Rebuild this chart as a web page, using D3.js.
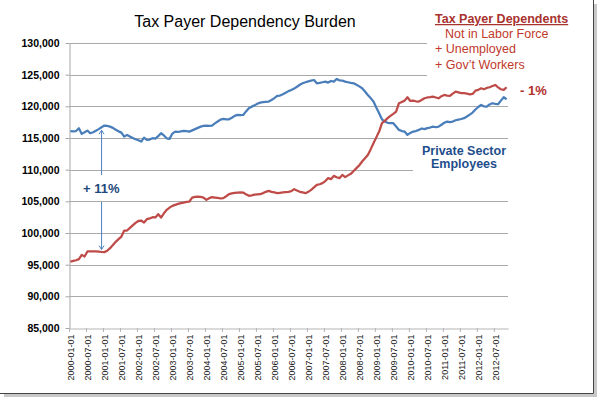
<!DOCTYPE html>
<html><head><meta charset="utf-8">
<script src="https://cdn.jsdelivr.net/npm/d3@7"></script>
<style>
body{margin:0;background:#fff}
svg{display:block;font-family:Arial,"Liberation Sans",sans-serif}
</style>
</head><body>
<svg id="c" width="597" height="397"></svg>
<script>
// ---------- data ----------
const firstMonth = [2000, 0];          // Jan 2000
const monthCount = 155;                // through Nov 2012
const privateSector = [
116100,116050,116100,116550,115650,115900,116170,115750,115900,116150,
116400,116700,116960,116900,116800,116600,116300,116050,115850,115220,
115490,115250,115000,114800,114650,114430,115060,114700,114750,114970,
114900,115300,115750,115400,114950,114860,115700,116010,115950,116050,
116120,116100,116010,116200,116400,116600,116800,116900,116960,116900,
116960,117300,117600,117900,118010,117950,117960,118200,118500,118640,
118600,118640,119200,119700,119950,120150,120400,120590,120650,120700,
120750,121000,121300,121640,121700,121900,122150,122400,122590,122800,
123100,123400,123640,123800,123950,124050,124160,123640,123700,123800,
123900,123750,124000,123900,124320,124100,124050,123900,123800,123700,
123640,123400,123150,122850,122350,121800,121300,120750,119800,118910,
117960,117600,117400,117350,117330,116800,116280,116100,116010,115490,
115800,116010,116100,116280,116500,116400,116550,116650,116800,116700,
116800,117100,117400,117590,117500,117590,117800,117900,118000,118130,
118400,118700,119010,119500,119900,120220,120000,119950,120300,120490,
120400,120330,120900,121430,121120
];
const dependents = [
95490,95600,95700,95870,96550,96290,97080,97100,97100,97080,
97050,97000,96980,97200,97610,98100,98600,99030,99440,100390,
100390,100800,101200,101600,101900,101970,101650,102180,102300,102500,
102450,102970,102440,103100,103660,104000,104290,104450,104600,104710,
104800,104900,104970,105600,105700,105760,105700,105600,105240,105500,
105660,105600,105550,105450,105500,105800,106130,106250,106350,106390,
106400,106390,106100,105870,105950,106050,106100,106130,106300,106500,
106650,106500,106400,106290,106350,106400,106450,106500,106600,106920,
106700,106500,106400,106290,106500,106810,107200,107600,107700,107870,
108200,108660,108500,109020,108800,108660,109180,108820,109100,109340,
109800,110240,110700,111290,111800,112330,113200,114180,115100,116010,
117340,117700,118130,118500,118800,119170,120490,120700,120900,121430,
120850,120900,120800,120750,121000,121270,121400,121450,121530,121400,
121270,121600,121800,121700,121640,122000,122320,122200,122100,122070,
122000,121900,121960,122480,122600,122850,122700,122900,123010,123200,
123380,123000,122700,122590,123010
];
const yTicks = [85000,90000,95000,100000,105000,110000,115000,120000,125000,130000];
const yDomain = [85000,130000];
const labelEveryMonths = 6;
const titleText = "Tax Payer Dependency Burden";
const legendTitle = "Tax Payer Dependents";
const legendLines = ["Not in Labor Force","+ Unemployed","+ Gov\u2019t Workers"];
const endLabelRed = "- 1%";
const blueLabel = ["Private Sector","Employees"];
const arrowLabel = "+ 11%";
const arrowMonthIndex = 11;

// ---------- chart ----------
const start = new Date(Date.UTC(firstMonth[0], firstMonth[1], 1));
const categories = d3.utcMonth.range(start, d3.utcMonth.offset(start, monthCount));
const fmt = d3.utcFormat("%Y-%m-%d");
const catKeys = categories.map(fmt);

const svg = d3.select("#c");
svg.append("rect").attr("width",597).attr("height",397).attr("fill","#fff");

const L = 69, R = 508, T = 43, B = 328;
const x = d3.scaleBand().domain(catKeys).range([L, R]).padding(0);
const xc = k => x(k) + x.bandwidth()/2;
const y = d3.scaleLinear().domain(yDomain).range([B, T]);

// gridlines
svg.append("g").selectAll("line").data(yTicks.filter(v => v !== yDomain[0])).join("line")
  .attr("x1", L).attr("x2", R)
  .attr("y1", d => Math.round(y(d)) + 0.5).attr("y2", d => Math.round(y(d)) + 0.5)
  .attr("stroke", "#a9a9a9").attr("stroke-width", 1.2);

// y axis
const yAxis = svg.append("g").attr("transform", `translate(${L + 0.5},0)`)
  .call(d3.axisLeft(y).tickValues(yTicks).tickSize(4).tickSizeOuter(0).tickFormat(d3.format(",")));
yAxis.select(".domain").attr("stroke", "#b5b5b5").attr("stroke-width", 1.2);
yAxis.selectAll(".tick line").attr("stroke", "#a9a9a9");
yAxis.selectAll(".tick text").attr("x", -10).attr("font-size", "10.5px").attr("font-weight", "bold")
  .attr("font-family", "Arial, 'Liberation Sans', sans-serif").attr("fill", "#000");

// x axis
const labelKeys = catKeys.filter((d, i) => i % labelEveryMonths === 0);
const xAxis = svg.append("g").attr("transform", `translate(0,${B + 0.5})`)
  .call(d3.axisBottom(x).tickValues(labelKeys).tickSize(0).tickSizeOuter(0));
xAxis.select(".domain").attr("stroke", "#b5b5b5").attr("stroke-width", 1.2);
xAxis.selectAll(".tick text")
  .attr("transform", "rotate(-90)").attr("text-anchor", "end")
  .attr("x", -6).attr("y", 3.3).attr("dy", "0")
  .attr("font-size", "9px").attr("font-family", "Arial, 'Liberation Sans', sans-serif").attr("fill", "#222");
svg.append("g").selectAll("line").data(labelKeys).join("line")
  .attr("x1", d => x(d) + 0.5).attr("x2", d => x(d) + 0.5)
  .attr("y1", B).attr("y2", B + 4).attr("stroke", "#b5b5b5");

// text-box backgrounds (cover gridlines as in the original)
svg.append("rect").attr("x", 427).attr("y", 0).attr("width", 170).attr("height", 76).attr("fill", "#fff");
svg.append("rect").attr("x", 413).attr("y", 142).attr("width", 100).attr("height", 30).attr("fill", "#fff");

// lines
const line = d3.line().x((d, i) => xc(catKeys[i])).y(d => y(d));
svg.append("path").datum(privateSector).attr("d", line)
  .attr("fill", "none").attr("stroke", "#4A7EBB").attr("stroke-width", 2.25).attr("stroke-linejoin", "round");
svg.append("path").datum(dependents).attr("d", line)
  .attr("fill", "none").attr("stroke", "#BE4B48").attr("stroke-width", 2.25).attr("stroke-linejoin", "round");

// arrow annotation
const ax = xc(catKeys[arrowMonthIndex]);
const aTop = y(privateSector[arrowMonthIndex]) + 3;
const aBot = y(dependents[arrowMonthIndex]) - 2.5;
const arrowColor = "#4F81BD";
const ag = svg.append("g").attr("stroke", arrowColor).attr("fill", "none").attr("stroke-width", 1);
ag.append("line").attr("x1", ax).attr("x2", ax).attr("y1", aTop).attr("y2", 175);
ag.append("line").attr("x1", ax).attr("x2", ax).attr("y1", 202).attr("y2", aBot);
ag.append("path").attr("d", `M${ax-2.5},${aTop+4}L${ax},${aTop}L${ax+2.5},${aTop+4}`);
ag.append("path").attr("d", `M${ax-2.5},${aBot-4}L${ax},${aBot}L${ax+2.5},${aBot-4}`);
svg.append("text").attr("x", 83).attr("y", 193).text(arrowLabel)
  .attr("font-size", "13px").attr("font-weight", "bold").attr("fill", "#1F497D");

// title
svg.append("text").attr("x", 245).attr("y", 27).attr("text-anchor", "middle")
  .attr("font-size", "16px").attr("fill", "#000").text(titleText);

// legend
const lt = svg.append("text").attr("x", 435).attr("y", 23).attr("font-size", "12.5px")
  .attr("font-weight", "bold").attr("fill", "#A8322E").attr("text-decoration", "underline").text(legendTitle);
const legendX = [445, 435, 435];
legendLines.forEach((t, i) => {
  svg.append("text").attr("x", legendX[i]).attr("y", 38 + i * 15.3).attr("font-size", "12.5px")
    .attr("fill", "#C0392B").text(t);
});
svg.append("text").attr("x", 520).attr("y", 95).attr("font-size", "13px").attr("font-weight", "bold")
  .attr("fill", "#B0302C").text(endLabelRed);

// blue label
blueLabel.forEach((t, i) => {
  svg.append("text").attr("x", 464).attr("y", 155 + i * 13).attr("text-anchor", "middle")
    .attr("font-size", "12.5px").attr("font-weight", "bold").attr("fill", "#1F4E8C").text(t);
});

// frame with shadow
svg.append("rect").attr("x", 4).attr("y", 394).attr("width", 593).attr("height", 3).attr("fill", "#c8c8c8");
svg.append("rect").attr("x", 594).attr("y", 4).attr("width", 3).attr("height", 393).attr("fill", "#c8c8c8");
svg.append("line").attr("x1", 593.5).attr("x2", 593.5).attr("y1", 0).attr("y2", 393.5).attr("stroke", "#444").attr("stroke-width", 1);
svg.append("line").attr("x1", 0).attr("x2", 593.5).attr("y1", 393.5).attr("y2", 393.5).attr("stroke", "#444").attr("stroke-width", 1);
</script>
</body></html>
